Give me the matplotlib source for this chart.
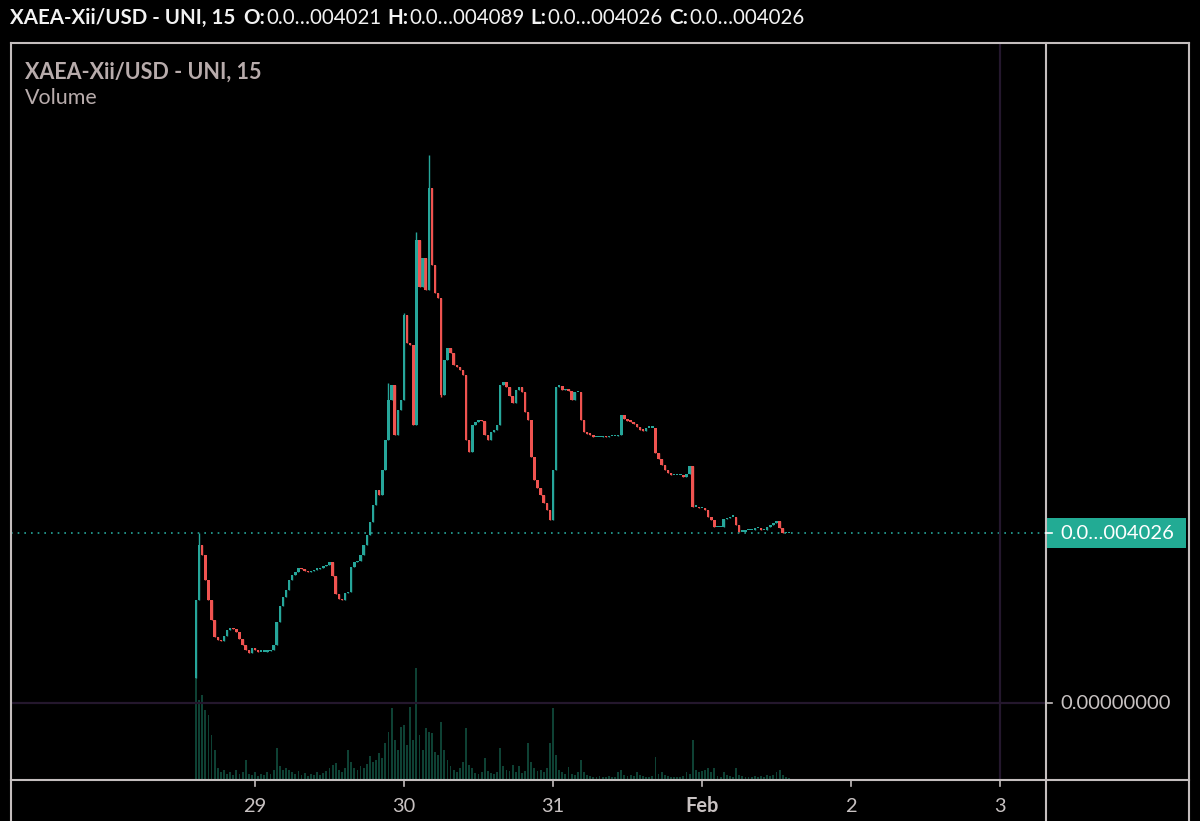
import matplotlib
matplotlib.use("Agg")
import matplotlib.pyplot as plt
import matplotlib.dates as mdates
import matplotlib.transforms as mtransforms
from matplotlib.lines import Line2D
from matplotlib.patches import Rectangle
from datetime import datetime, timedelta

plt.rcParams['font.family'] = ['Lato', 'DejaVu Sans']

# data (30 min steps, price in 1e-12 units)
start = datetime(2022, 1, 28, 14, 30)
step = timedelta(minutes=30)
first_open = 592
closes = [
    2439, 3742, 3505, 2913, 2439, 1966, 1563, 1492, 1468, 1587, 1729, 1776,
    1752, 1681, 1516, 1374, 1255, 1184, 1303, 1255, 1208, 1208, 1208, 1231,
    1255, 1374, 1918, 2297, 2510, 2676, 2913, 3031, 3102, 3197, 3173, 3126,
    3102, 3126, 3150, 3173, 3197, 3244, 3268, 3339, 3008, 2581, 2463, 2439,
    2605, 2629, 3221, 3339, 3363, 3505, 3742, 3979, 4286, 4689, 5044, 4926,
    5518, 6228, 7176, 7531, 6347, 6939, 7176, 9189, 8526, 8478, 6584, 10965,
    9852, 10538, 9781, 12196, 10373, 9710, 9591, 7294, 8123, 8407, 8289, 8005,
    7957, 7886, 7768, 6228, 5944, 6584, 6655, 6702, 6678, 6347, 6228, 6418,
    6465, 6584, 7531, 7602, 7484, 7270, 7105, 7412, 7484, 7365, 6891, 6702,
    5826, 5281, 5092, 4926, 4736, 4571, 4334, 5518, 7484, 7507, 7412, 7436,
    7389, 7176, 7365, 7365, 6702, 6418, 6370, 6347, 6299, 6299, 6299, 6323,
    6299, 6323, 6323, 6323, 6347, 6820, 6726, 6678, 6655, 6607, 6536, 6465,
    6442, 6513, 6513, 6513, 5921, 5778, 5636, 5518, 5447, 5399, 5399, 5399,
    5399, 5352, 5423, 5613, 4642, 4642, 4618, 4618, 4571, 4405, 4334, 4168,
    4168, 4168, 4357, 4381, 4405, 4405, 4215, 4050, 4050, 4097, 4097, 4097,
    4144, 4144, 4097, 4097, 4168, 4215, 4263, 4310, 4144, 4026, 4026, 4026,
]
extra_highs = {1: 4026, 62: 7578, 67: 9236, 71: 11154, 75: 12978}
extra_lows = {79: 7247}
volumes = [
    105, 80, 85, 70, 65, 45, 30, 12, 8, 10, 6, 8,
    5, 10, 6, 8, 20, 6, 5, 8, 4, 6, 5, 8,
    6, 10, 32, 14, 10, 12, 10, 8, 6, 9, 5, 7,
    4, 6, 5, 8, 5, 7, 9, 12, 15, 17, 10, 8,
    12, 30, 18, 12, 10, 14, 12, 16, 24, 18, 20, 27,
    22, 37, 48, 72, 40, 30, 53, 55, 35, 73, 40, 112,
    45, 30, 52, 48, 47, 28, 25, 58, 30, 20, 14, 10,
    8, 12, 18, 52, 15, 12, 7, 6, 8, 22, 9, 7,
    6, 8, 32, 14, 10, 9, 15, 8, 14, 7, 9, 37,
    18, 12, 9, 10, 8, 12, 37, 72, 25, 10, 8, 6,
    13, 6, 5, 8, 20, 8, 5, 4, 3, 3, 4, 3,
    3, 4, 3, 3, 8, 10, 5, 4, 5, 4, 8, 5,
    4, 3, 3, 4, 23, 6, 8, 5, 4, 3, 3, 3,
    3, 4, 8, 6, 40, 10, 8, 9, 10, 12, 8, 12,
    4, 3, 8, 5, 4, 3, 12, 5, 4, 3, 3, 3,
    4, 3, 4, 3, 5, 4, 5, 8, 10, 5, 3, 2,
]
last_price = 4026
last_label = "0.0…004026"
zero_label = "0.00000000"
tick_dates = [datetime(2022, 1, 29), datetime(2022, 1, 30), datetime(2022, 1, 31),
              datetime(2022, 2, 1), datetime(2022, 2, 2), datetime(2022, 2, 3)]
tick_labels = ["29", "30", "31", "Feb", "2", "3"]
title = "XAEA-Xii/USD - UNI, 15"
header = [("O:", "bold"), ("0.0…004021", "normal"), ("H:", "bold"), ("0.0…004089", "normal"),
          ("L:", "bold"), ("0.0…004026", "normal"), ("C:", "bold"), ("0.0…004026", "normal")]

UP, DOWN = "#26a69a", "#ef5350"
FRAME = "#c4bebe"
CROSS = "#24172d"
VOL = "#0e4134"

W, H = 1200, 821
fig = plt.figure(figsize=(12, 8.21), dpi=100, facecolor="black")
renderer = fig.canvas.get_renderer()

def fx(px):
    return px / W

def fy(py):
    return 1 - py / H

# pixel calibration: price 0 at y=703, last price at y=533; day 29 at x=255, 149 px/day
ppu = 170 / last_price
y_lo, y_hi = -(780 - 703) / ppu, (703 - 43) / ppu
day0 = mdates.date2num(datetime(2022, 1, 29))
x_lo, x_hi = day0 - 244 / 149, day0 + 791 / 149

rect = [fx(11), fy(780), fx(1046 - 11), (780 - 43) / H]
vax = fig.add_axes(rect)
ax = fig.add_axes(rect)
for a in (vax, ax):
    a.set_xlim(x_lo, x_hi)
    a.set_facecolor("none")
    a.axis("off")
ax.set_ylim(y_lo, y_hi)
vax.set_ylim(0, max(volumes) * (780 - 43) / 112)

t = [mdates.date2num(start + i * step) for i in range(len(closes))]
opens = [first_open] + closes[:-1]
highs = [extra_highs.get(i, max(o, c)) for i, (o, c) in enumerate(zip(opens, closes))]
lows = [extra_lows.get(i, min(o, c)) for i, (o, c) in enumerate(zip(opens, closes))]
colors = [UP if c >= o else DOWN for o, c in zip(opens, closes)]
dt = 30 / 1440
min_h = 1.5 / ppu
bottoms = [min(o, c) for o, c in zip(opens, closes)]
heights = [max(abs(c - o), min_h) for o, c in zip(opens, closes)]

vax.bar(t, volumes, width=dt * 0.6, color=VOL, linewidth=0)
ax.vlines(t, lows, highs, colors=colors, lw=1)
ax.bar(t, heights, width=dt * 0.8, bottom=bottoms, color=colors, linewidth=0)

# last price dotted line and crosshair
ax.axhline(last_price, color=UP, lw=1.2, ls=(0, (1, 3)))
ax.axhline(0, color=CROSS, lw=1.6)
ax.axvline(mdates.date2num(datetime(2022, 2, 3)), color=CROSS, lw=1.6)

def fline(x0, x1, y0, y1, color=FRAME, lw=1.5):
    fig.add_artist(Line2D([fx(x0), fx(x1)], [fy(y0), fy(y1)], transform=fig.transFigure,
                          color=color, lw=lw))

fline(11, 1189, 43, 43)
fline(11, 11, 43, 821)
fline(11, 1189, 780, 780)
fline(1046, 1046, 43, 821)
fline(1189, 1189, 43, 821)

def fit(s, target, weight):
    tt = fig.text(0, 0, s, fontsize=10, fontweight=weight)
    w = tt.get_window_extent(renderer).width
    tt.remove()
    return 10 * target / w

# x axis ticks
blend = mtransforms.blended_transform_factory(ax.transData, fig.transFigure)
tick_fs = fit("30", 23, "normal")
for d, lab in zip(tick_dates, tick_labels):
    xd = mdates.date2num(d)
    fig.add_artist(Line2D([xd, xd], [fy(780), fy(786)], transform=blend, color=FRAME, lw=1.2))
    fig.text(xd, fy(806), lab, transform=blend, ha="center", va="center", color="#c8c2c2",
             fontsize=tick_fs, fontweight="bold" if lab == "Feb" else "normal")

# price axis labels
fig.add_artist(Rectangle((fx(1046), fy(548)), fx(1186 - 1046), 30 / H,
                         transform=fig.transFigure, color="#22ab94", lw=0))
lab_fs = fit(last_label, 113, "normal")
fline(1046, 1052, 533, 533, color="white", lw=1.2)
fig.text(fx(1060), fy(533), last_label, color="white", fontsize=lab_fs, va="center")
fline(1046, 1052, 703, 703, lw=1.2)
fig.text(fx(1060), fy(703), zero_label, color="#c8c2c2", fontsize=lab_fs, va="center")

# legend inside pane
leg_fs = fit("Volume", 73, "normal")
fig.text(fx(25), fy(72), title, color="#b8acac", fontsize=leg_fs, fontweight="bold", va="center")
fig.text(fx(25), fy(98), "Volume", color="#b8acac", fontsize=leg_fs, va="center")

# header line
head_fs = fit(title, 226, "bold")
x = 10
tt = fig.text(fx(x), fy(18), title, color="#f2f2f2", fontsize=head_fs, fontweight="bold", va="center")
x += tt.get_window_extent(renderer).width + 8
for s, wgt in header:
    tt = fig.text(fx(x), fy(18), s, color="#f2f2f2", fontsize=head_fs, fontweight=wgt, va="center")
    x += tt.get_window_extent(renderer).width + (1 if wgt == "bold" else 6)

fig.savefig("out.png", dpi=100, facecolor="black")
